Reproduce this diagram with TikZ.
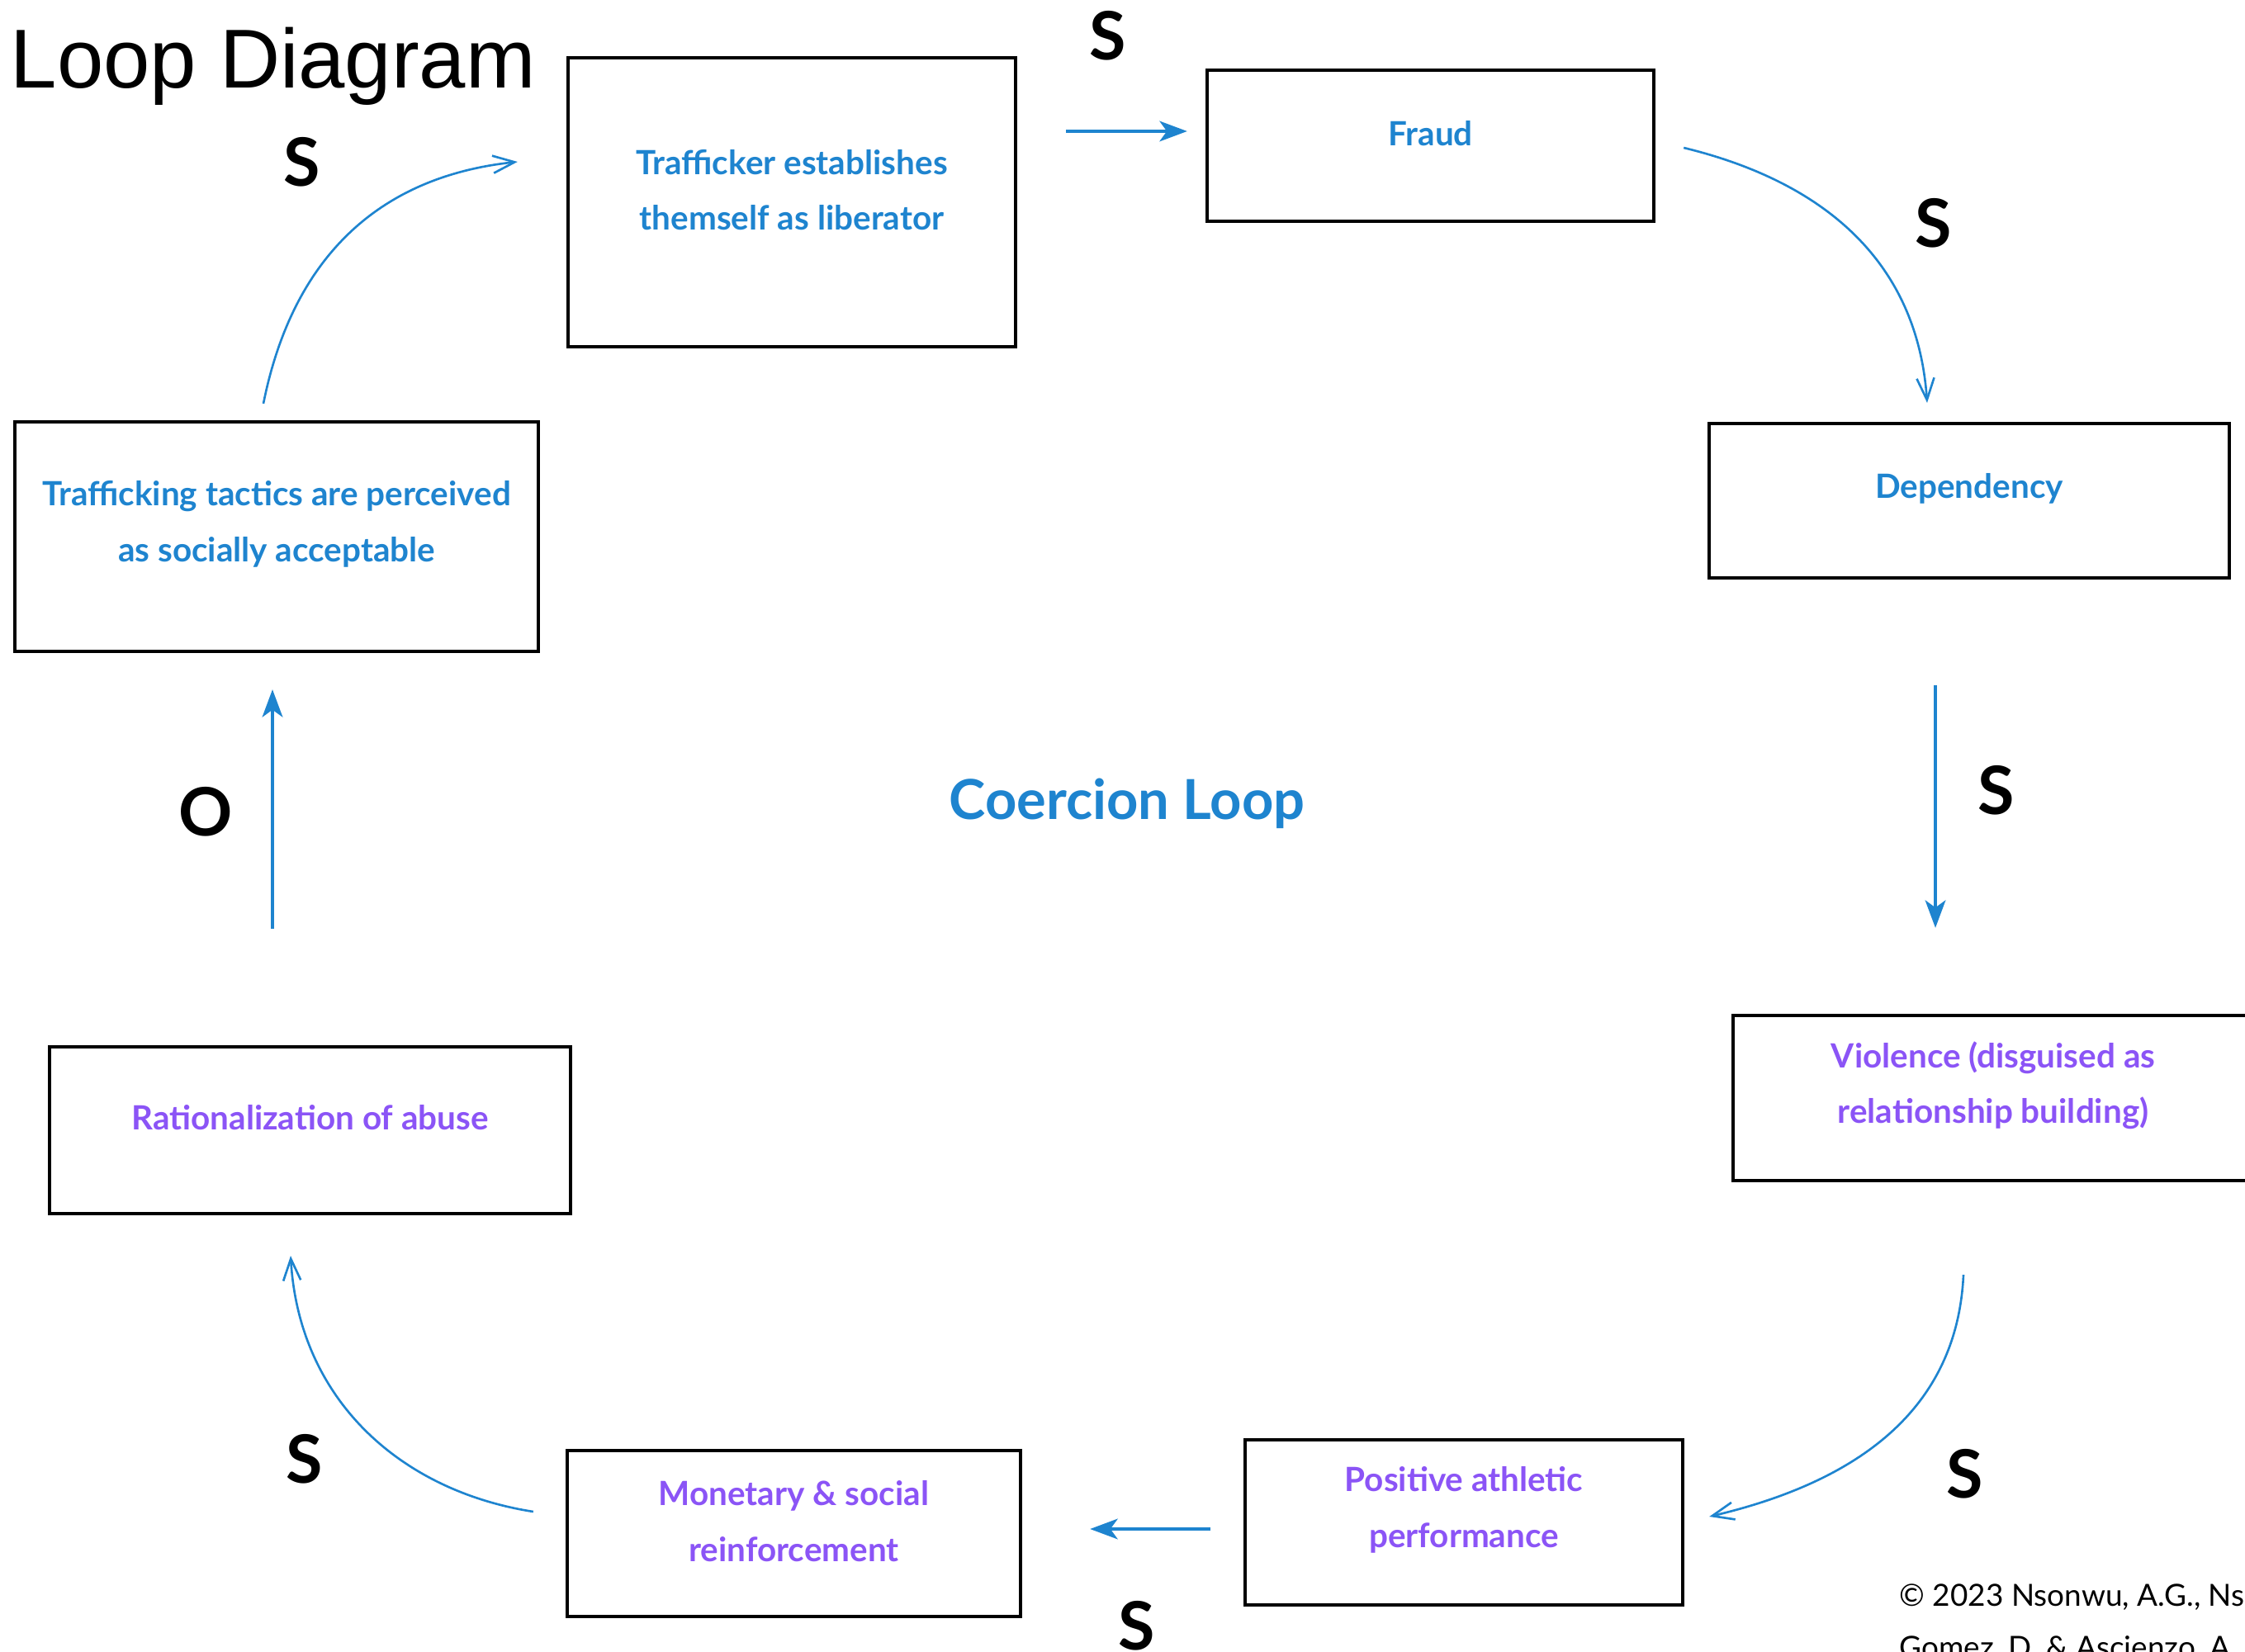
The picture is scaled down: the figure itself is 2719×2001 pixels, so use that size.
\documentclass[tikz,border=0pt]{standalone}
\usepackage{fontspec}
\setmainfont{Lato}
\newfontfamily\titlefont{Liberation Sans}
\usetikzlibrary{calc,arrows.meta}
\definecolor{loopblue}{RGB}{30,132,207}
\definecolor{looppurple}{RGB}{139,84,246}

\begin{document}
\begin{tikzpicture}[x=0.01cm,y=-0.01cm,
	loopbox/.style={draw=black,line width=1.15pt,inner sep=0pt},
	boxtext/.style={font=\fontsize{11.5}{19.2}\selectfont\bfseries,align=center,yshift=0.15cm},
	signlabel/.style={font=\fontsize{23}{23}\selectfont\bfseries,inner sep=0pt},
	curvearrow/.style={loopblue,line width=0.75pt,-{Straight Barb[length=7.5pt,width=6pt]}},
	linkarrow/.style={loopblue,line width=1.2pt,-{Stealth[length=9.5pt,width=7pt,inset=2.5pt]}}]
	\useasboundingbox (0,0) rectangle (2719,2001);
	\node[anchor=base west,inner sep=0pt,font=\titlefont\fontsize{28.8}{28.8}\selectfont] (title) at (12,107) {Loop Diagram};
	% the eight boxes of the loop
	\node[loopbox,minimum width=5.42cm,minimum height=3.5cm,label={[boxtext,text=loopblue]center:{Trafficker establishes\\themself as liberator}}] (liberator) at (959,245) {};
	\node[loopbox,minimum width=5.41cm,minimum height=1.83cm,label={[boxtext,text=loopblue]center:Fraud}] (fraud) at (1732.5,176.5) {};
	\node[loopbox,minimum width=6.3cm,minimum height=1.87cm,label={[boxtext,text=loopblue]center:Dependency}] (dependency) at (2385,606.5) {};
	\node[loopbox,minimum width=6.3cm,minimum height=2cm,label={[boxtext,text=looppurple]center:{Violence (disguised as\\relationship building)}}] (violence) at (2414,1330) {};
	\node[loopbox,minimum width=5.3cm,minimum height=2cm,label={[boxtext,text=looppurple]center:{Positive athletic\\performance}}] (positive) at (1773,1844) {};
	\node[loopbox,minimum width=5.49cm,minimum height=2.01cm,label={[boxtext,text=looppurple]center:{Monetary \& social\\reinforcement}}] (monetary) at (961.5,1857.5) {};
	\node[loopbox,minimum width=6.31cm,minimum height=2.02cm,label={[boxtext,text=looppurple]center:Rationalization of abuse}] (rationalization) at (375.5,1369) {};
	\node[loopbox,minimum width=6.34cm,minimum height=2.78cm,label={[boxtext,text=loopblue]center:{Trafficking tactics are perceived\\as socially acceptable}}] (tactics) at (335,650) {};
	\node[font=\fontsize{19}{19}\selectfont\bfseries,text=loopblue,anchor=base,inner sep=0pt] (coercion) at (1365,992) {Coercion Loop};
	% arrows
	\draw[curvearrow] ($(tactics.north)+(-16,-20)$) .. controls +(35,-175) and +(-170,18) .. ($(liberator.west)+(-59,-49)$);
	\draw[linkarrow] ($(liberator.east)+(59,-86)$) -- ($(fraud.west)+(-22,-17.5)$);
	\draw[curvearrow] ($(fraud.east)+(34,2.5)$) .. controls +(165,40) and +(-12,-175) .. ($(dependency.north)+(-51,-23)$);
	\draw[linkarrow] ($(dependency.south)+(-41,128)$) -- ($(violence.north)+(-70,-104)$);
	\draw[curvearrow] ($(violence.south)+(-36,112)$) .. controls +(-8,170) and +(170,-40) .. ($(positive.east)+(30,-7)$);
	\draw[linkarrow] ($(positive.west)+(-40,8)$) -- ($(monetary.east)+(82,-5.5)$);
	\draw[curvearrow] ($(monetary.west)+(-39,-26.5)$) .. controls +(-160,-25) and +(10,175) .. ($(rationalization.south)+(-23.5,49)$);
	\draw[linkarrow] ($(rationalization.north)+(-45.5,-141)$) -- ($(tactics.south)+(-5,44)$);
	% polarity signs
	\foreach \x/\y [count=\i] in {366/196,1342/43,2342/270,2418/957,2380/1785,1377/1969,369/1767}
		\node[signlabel] (s\i) at (\x,\y) {S};
	\node[signlabel] (o) at (249,983) {O};
	\node[anchor=base west,inner sep=0pt,font=\fontsize{10.5}{10.5}\selectfont] (copyright) at (2300,1945) {© 2023 Nsonwu, A.G., Nso};
	\node[anchor=base west,inner sep=0pt,font=\fontsize{10.5}{10.5}\selectfont] (authors) at (2300,2008) {Gomez, D. \& Ascienzo, A.};
\end{tikzpicture}
\end{document}
